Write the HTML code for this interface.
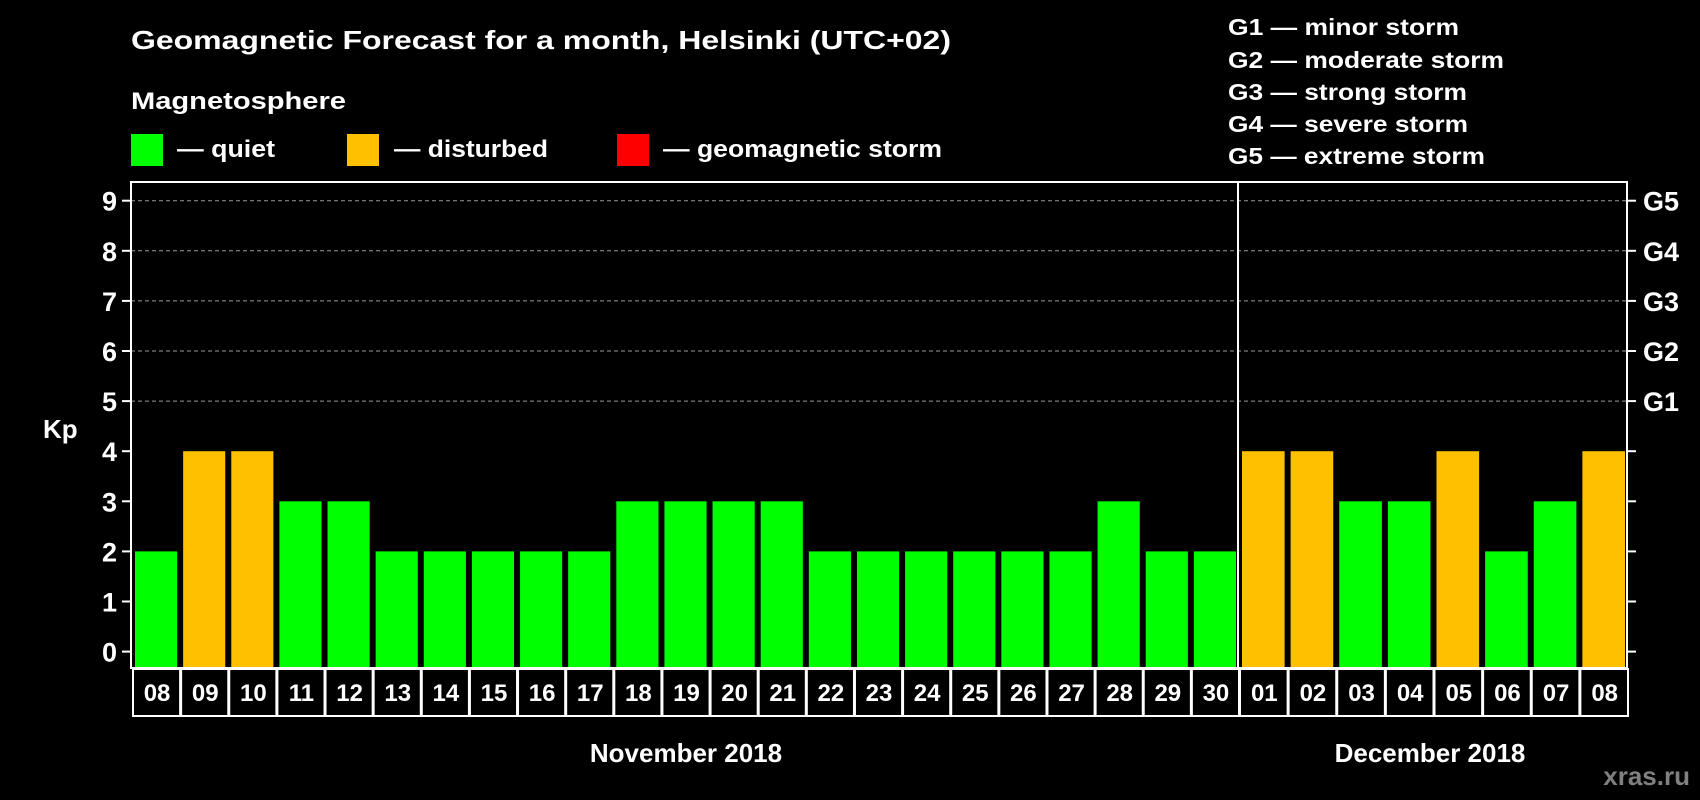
<!DOCTYPE html>
<html><head><meta charset="utf-8"><style>
html,body{margin:0;padding:0;background:#000;}
svg{display:block;font-family:"Liberation Sans",Arial,sans-serif;font-weight:bold;}
</style></head><body>
<svg id="chart" width="1700" height="800" viewBox="0 0 1700 800" xmlns="http://www.w3.org/2000/svg">
<rect width="1700" height="800" fill="#000"/>
<text x="131" y="49" fill="#fff" font-size="26" textLength="820" lengthAdjust="spacingAndGlyphs">Geomagnetic Forecast for a month, Helsinki (UTC+02)</text>
<text x="131" y="109" fill="#fff" font-size="24" textLength="215" lengthAdjust="spacingAndGlyphs">Magnetosphere</text>
<rect x="131" y="134" width="32" height="32" fill="#00ff00"/>
<text x="177" y="157" fill="#fff" font-size="24" textLength="98" lengthAdjust="spacingAndGlyphs">— quiet</text>
<rect x="347" y="134" width="32" height="32" fill="#ffc000"/>
<text x="394" y="157" fill="#fff" font-size="24" textLength="154" lengthAdjust="spacingAndGlyphs">— disturbed</text>
<rect x="617" y="134" width="32" height="32" fill="#ff0000"/>
<text x="663" y="157" fill="#fff" font-size="24" textLength="279" lengthAdjust="spacingAndGlyphs">— geomagnetic storm</text>
<g fill="#fff" font-size="23">
<text x="1228" y="35" textLength="231" lengthAdjust="spacingAndGlyphs">G1 — minor storm</text>
<text x="1228" y="68" textLength="276" lengthAdjust="spacingAndGlyphs">G2 — moderate storm</text>
<text x="1228" y="100" textLength="239" lengthAdjust="spacingAndGlyphs">G3 — strong storm</text>
<text x="1228" y="132" textLength="240" lengthAdjust="spacingAndGlyphs">G4 — severe storm</text>
<text x="1228" y="164" textLength="257" lengthAdjust="spacingAndGlyphs">G5 — extreme storm</text>
</g>
<text x="43" y="438" fill="#fff" font-size="26">Kp</text>
<g id="grid"></g><g id="bars"></g><g id="axes"></g><g id="dates"></g>
<text x="686" y="762" fill="#fff" font-size="26" text-anchor="middle">November 2018</text>
<text x="1430" y="762" fill="#fff" font-size="26" text-anchor="middle">December 2018</text>
<text x="1690" y="785" fill="#808080" font-size="26" text-anchor="end">xras.ru</text>
</svg>
<script>
const dates = ["08","09","10","11","12","13","14","15","16","17","18","19","20","21","22","23","24","25","26","27","28","29","30","01","02","03","04","05","06","07","08"];
const kpValues = [2,4,4,3,3,2,2,2,2,2,3,3,3,3,2,2,2,2,2,2,3,2,2,4,4,3,3,4,2,3,4];
const yTicks = [0,1,2,3,4,5,6,7,8,9];
const gLabels = ["G1","G2","G3","G4","G5"];
const gLevels = [5,6,7,8,9];
const novCount = 23;

const NS="http://www.w3.org/2000/svg";
const L=131,R=1627,T=182,B=668,DIV=1238;
function y(v){return 651.6-v*50.1;}
function slotX(i){return i<novCount? L+i*(DIV-L)/novCount : DIV+(i-novCount)*(R-DIV)/(dates.length-novCount);}
function slotW(i){return i<novCount? (DIV-L)/novCount : (R-DIV)/(dates.length-novCount);}
function mk(tag,attrs,parent){const e=document.createElementNS(NS,tag);for(const k in attrs)e.setAttribute(k,attrs[k]);parent.appendChild(e);return e;}
function color(v){return v>=5?"#ff0000":(v>=4?"#ffc000":"#00ff00");}

const grid=document.getElementById("grid"),bars=document.getElementById("bars"),axes=document.getElementById("axes"),dg=document.getElementById("dates");
gLevels.forEach((lv,i)=>{
  const g=mk("line",{x1:L,x2:R,y1:y(lv),y2:y(lv),stroke:"#9a9a9a","stroke-width":1,"stroke-dasharray":"4,3"},grid);
  
  
  const t=mk("text",{x:1643,y:y(lv)+10,fill:"#fff","font-size":27},axes);
  t.textContent=gLabels[i];
  
  
});
kpValues.forEach((v,i)=>{
  const w=slotW(i);
  const b=mk("rect",{x:slotX(i)+4,y:y(v),width:w-6,height:B-y(v),fill:color(v)},bars);
  
  
  const bx=mk("rect",{x:slotX(i)+2,y:B+1,width:w-1,height:47,fill:"none",stroke:"#fff","stroke-width":2},dg);
  
  
  const t=mk("text",{x:slotX(i)+2+w/2,y:B+33,fill:"#fff","font-size":24,"text-anchor":"middle"},dg);
  t.textContent=dates[i];
  
  
});
yTicks.forEach(v=>{
  const tk=mk("line",{x1:122,x2:L,y1:y(v),y2:y(v),stroke:"#fff","stroke-width":2},axes);
  
  
  const tr=mk("line",{x1:R,x2:1636,y1:y(v),y2:y(v),stroke:"#fff","stroke-width":2},axes);
  
  
  const t=mk("text",{x:117,y:y(v)+10,fill:"#fff","font-size":27,"text-anchor":"end"},axes);
  t.textContent=v;
  
  
});
const fr=mk("rect",{x:L,y:T,width:R-L,height:B-T,fill:"none",stroke:"#fff","stroke-width":2},axes);


const dv=mk("line",{x1:DIV,x2:DIV,y1:T,y2:B,stroke:"#fff","stroke-width":2},axes);


</script>
</body></html>
